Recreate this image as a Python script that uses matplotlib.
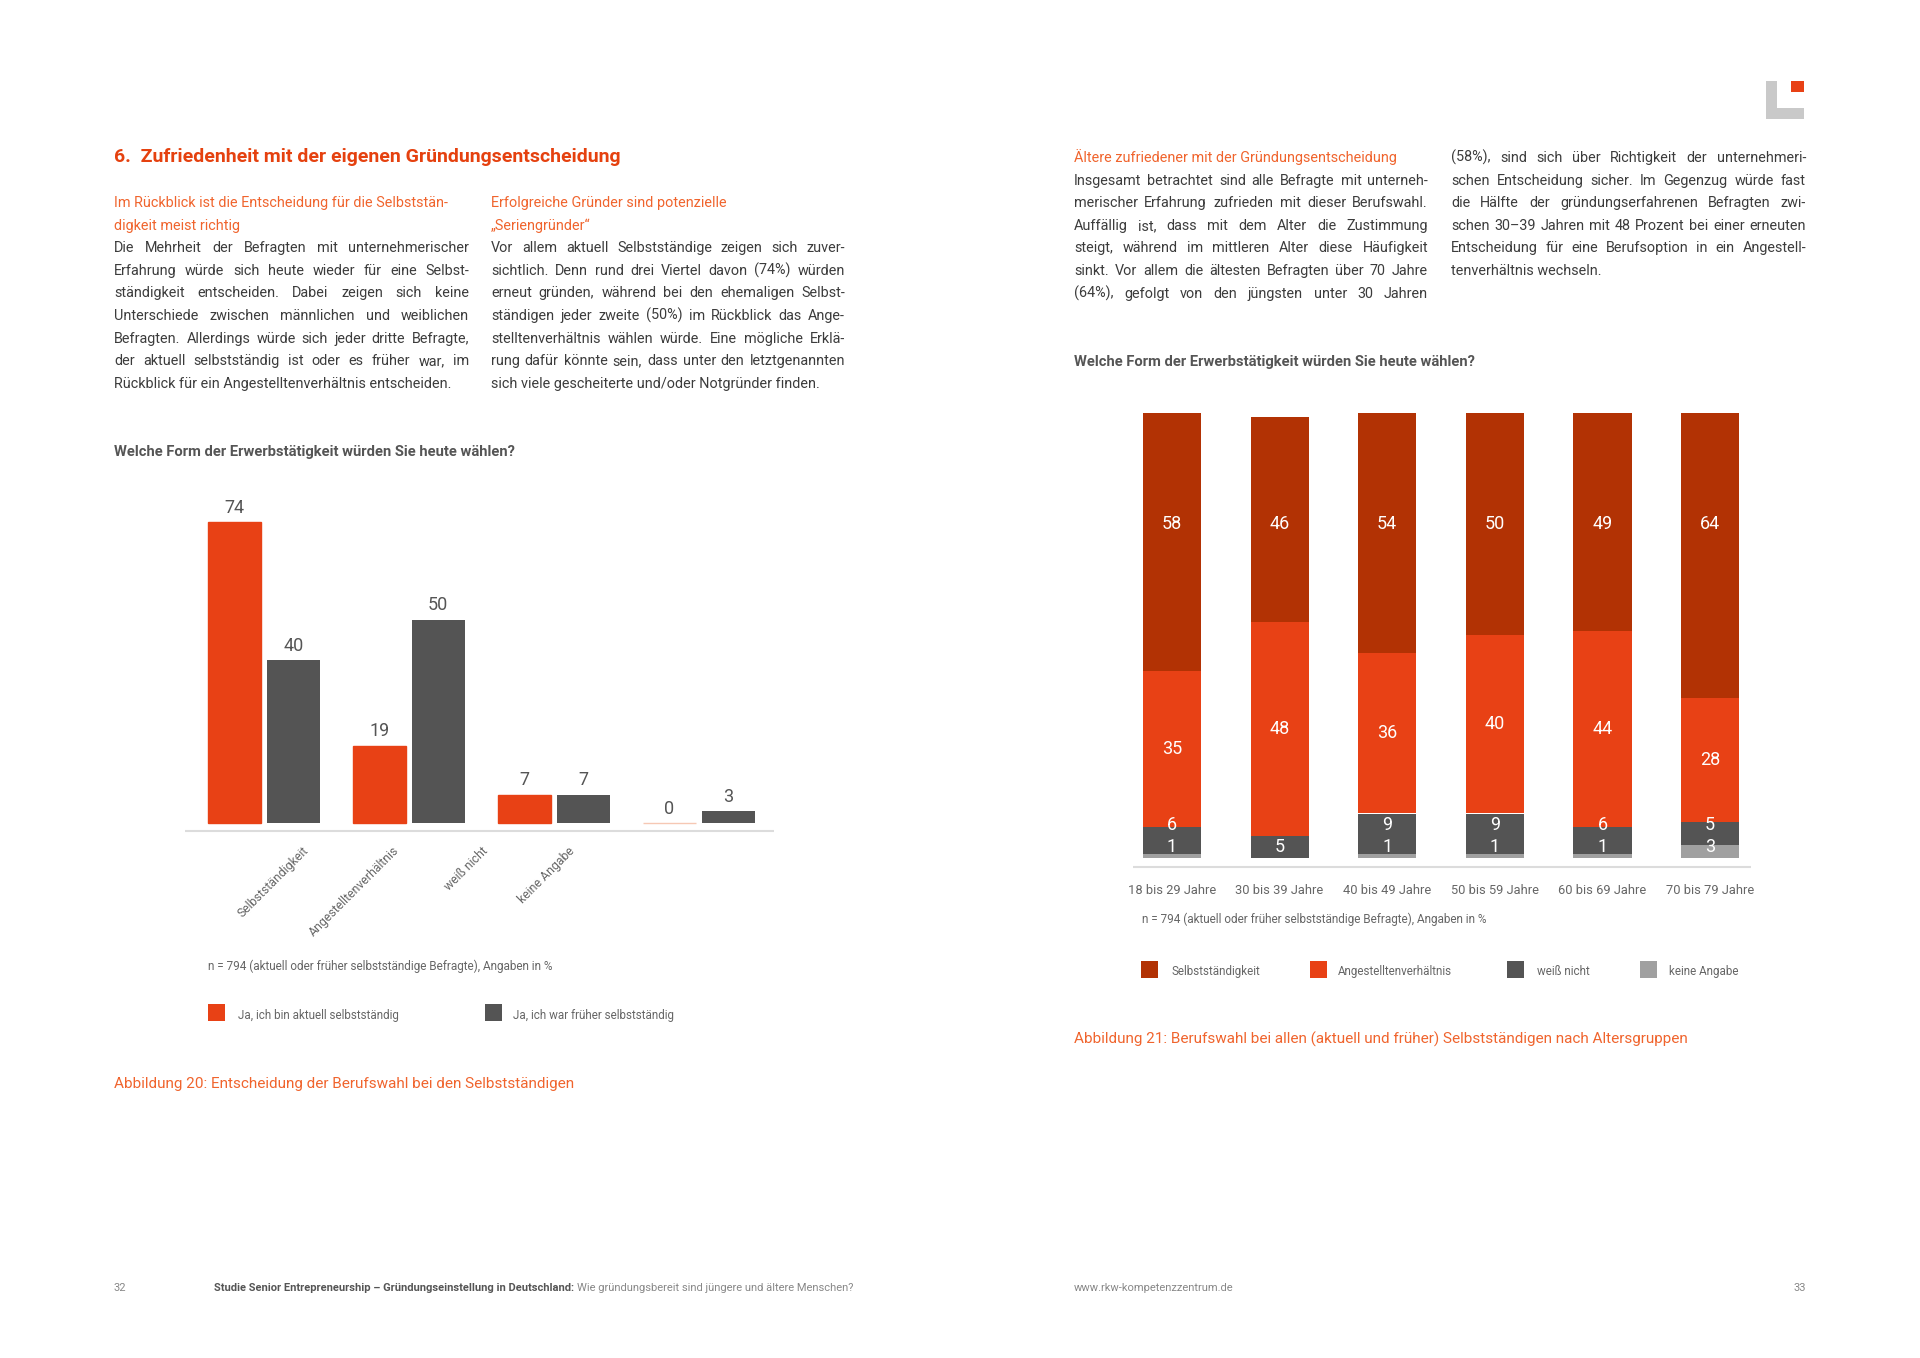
import matplotlib
matplotlib.use('Agg')
import matplotlib.pyplot as plt
from matplotlib.patches import Rectangle
import numpy as np

W, H = 1920, 1358

# ---- chart data (values in %) ----
choice_labels = ['Selbstständigkeit', 'Angestelltenverhältnis', 'weiß nicht', 'keine Angabe']
current_self = [74, 19, 7, 0]
former_self = [40, 50, 7, 3]

age_groups = ['18 bis 29 Jahre', '30 bis 39 Jahre', '40 bis 49 Jahre',
              '50 bis 59 Jahre', '60 bis 69 Jahre', '70 bis 79 Jahre']
keine_angabe = [1, 0, 1, 1, 1, 3]
weiss_nicht = [6, 5, 9, 9, 6, 5]
angestellt = [35, 48, 36, 40, 44, 28]
selbststaendig = [58, 46, 54, 50, 49, 64]
stack_labels = ['Selbstständigkeit', 'Angestelltenverhältnis', 'weiß nicht', 'keine Angabe']

# ---- colours ----
ORANGE = '#E84115'
DARKRED = '#B23204'
DGRAY = '#545454'
LGRAY = '#A0A0A0'
HEAD = '#E5410F'
SUB = '#F0642D'
BODY = '#3c3c3c'
NOTE = '#666666'

plt.rcParams['font.family'] = ['Roboto', 'DejaVu Sans']

fig = plt.figure(figsize=(W / 100, H / 100), dpi=100)
fig.patch.set_facecolor('white')
renderer = fig.canvas.get_renderer()


def fx(x):
    return x / W


def fy(y):
    return 1 - y / H


def put(x, y, s, size=10, **kw):
    return fig.text(fx(x), fy(y), s, fontsize=size, **kw)


def box(x0, y0, x1, y1, color):
    fig.add_artist(Rectangle((fx(x0), fy(y1)), (x1 - x0) / W, (y1 - y0) / H,
                             transform=fig.transFigure, color=color, lw=0))


def text_width(s, **kw):
    t = put(0, 0, s, **kw)
    w = t.get_window_extent(renderer).width
    t.remove()
    return w


def justify(x0, x1, y, line, last=False, **kw):
    # justified paragraph line, words spread between x0 and x1
    if last:
        put(x0, y, line, va='baseline', **kw)
        return
    words = line.split(' ')
    widths = [text_width(w, **kw) for w in words]
    gap = (x1 - x0 - sum(widths)) / (len(words) - 1)
    x = x0
    for w, wd in zip(words, widths):
        put(x, y, w, va='baseline', **kw)
        x += wd + gap


def paragraph(x0, x1, y, lines, end_last=True, **kw):
    for i, line in enumerate(lines):
        last = end_last and i == len(lines) - 1
        justify(x0, x1, y + i * LH, line, last=last, **kw)


LH = 22.6
BL = 4  # baseline offset from line centre

left_col1 = [
    'Die Mehrheit der Befragten mit unternehmerischer',
    'Erfahrung würde sich heute wieder für eine Selbst-',
    'ständigkeit entscheiden. Dabei zeigen sich keine',
    'Unterschiede zwischen männlichen und weiblichen',
    'Befragten. Allerdings würde sich jeder dritte Befragte,',
    'der aktuell selbstständig ist oder es früher war, im',
    'Rückblick für ein Angestelltenverhältnis entscheiden.',
]
left_col2 = [
    'Vor allem aktuell Selbstständige zeigen sich zuver-',
    'sichtlich. Denn rund drei Viertel davon (74%) würden',
    'erneut gründen, während bei den ehemaligen Selbst-',
    'ständigen jeder zweite (50%) im Rückblick das Ange-',
    'stelltenverhältnis wählen würde. Eine mögliche Erklä-',
    'rung dafür könnte sein, dass unter den letztgenannten',
    'sich viele gescheiterte und/oder Notgründer finden.',
]
right_col1 = [
    'Insgesamt betrachtet sind alle Befragte mit unterneh-',
    'merischer Erfahrung zufrieden mit dieser Berufswahl.',
    'Auffällig ist, dass mit dem Alter die Zustimmung',
    'steigt, während im mittleren Alter diese Häufigkeit',
    'sinkt. Vor allem die ältesten Befragten über 70 Jahre',
    '(64%), gefolgt von den jüngsten unter 30 Jahren',
]
right_col2 = [
    '(58%), sind sich über Richtigkeit der unternehmeri-',
    'schen Entscheidung sicher. Im Gegenzug würde fast',
    'die Hälfte der gründungserfahrenen Befragten zwi-',
    'schen 30–39 Jahren mit 48 Prozent bei einer erneuten',
    'Entscheidung für eine Berufsoption in ein Angestell-',
    'tenverhältnis wechseln.',
]

# body size: largest size at which every line fits the 355 px column
BODY_SIZE = 11.0
while BODY_SIZE > 8:
    widest = max(text_width(l, size=BODY_SIZE) for l in left_col1 + left_col2 + right_col1 + right_col2)
    if widest <= 352:
        break
    BODY_SIZE -= 0.1

# ---- left page text ----
put(114, 157 + 5, '6.  Zufriedenheit mit der eigenen Gründungsentscheidung',
    size=14, color=HEAD, fontweight='bold', va='baseline')

put(114, 203 + BL, 'Im Rückblick ist die Entscheidung für die Selbststän-', size=BODY_SIZE, color=SUB, va='baseline')
put(114, 203 + LH + BL, 'digkeit meist richtig', size=BODY_SIZE, color=SUB, va='baseline')
paragraph(114, 469, 203 + 2 * LH + BL, left_col1, size=BODY_SIZE, color=BODY)

put(491, 203 + BL, 'Erfolgreiche Gründer sind potenzielle', size=BODY_SIZE, color=SUB, va='baseline')
put(491, 203 + LH + BL, '„Seriengründer“', size=BODY_SIZE, color=SUB, va='baseline')
paragraph(491, 845, 203 + 2 * LH + BL, left_col2, size=BODY_SIZE, color=BODY)

put(114, 452 + BL, 'Welche Form der Erwerbstätigkeit würden Sie heute wählen?',
    size=10.6, color='#555555', fontweight='bold', va='baseline')

# ---- right page text ----
put(1074, 158 + BL, 'Ältere zufriedener mit der Gründungsentscheidung', size=BODY_SIZE, color=SUB, va='baseline')
paragraph(1074, 1428, 158 + LH + BL, right_col1, end_last=False, size=BODY_SIZE, color=BODY)
paragraph(1451, 1806, 158 + BL, right_col2, size=BODY_SIZE, color=BODY)

put(1074, 362 + BL, 'Welche Form der Erwerbstätigkeit würden Sie heute wählen?',
    size=10.6, color='#555555', fontweight='bold', va='baseline')

# logo
box(1766, 81, 1777, 119, '#c9c9c9')
box(1766, 108, 1804, 119, '#c9c9c9')
box(1791, 81, 1804, 92, ORANGE)

# ---- left chart: grouped bars ----
ax1 = fig.add_axes([fx(185), fy(839.3), (774 - 185) / W, (839.3 - 416) / H])
x = np.arange(len(choice_labels))
edge = ['#F6C8B4' if v == 0 else ORANGE for v in current_self]
ax1.bar(x - 0.203, current_self, 0.366, color=ORANGE, edgecolor=edge, linewidth=1)
ax1.bar(x + 0.203, former_self, 0.366, color=DGRAY, linewidth=0)
for xi, a, b in zip(x, current_self, former_self):
    ax1.text(xi - 0.203, a + 1.3, str(a), ha='center', va='bottom', fontsize=13, color='#555555')
    ax1.text(xi + 0.203, b + 1.3, str(b), ha='center', va='bottom', fontsize=13, color='#555555')
ax1.axhline(-2, color='#dcdcdc', lw=1.5)
ax1.set_xlim(-0.545, 3.52)
ax1.set_ylim(-4, 100)
ax1.axis('off')

# rotated category labels (offset as in the original layout)
for lx, lab in zip([307, 397, 486, 573], choice_labels):
    put(lx, 849, lab, size=8.8, color=NOTE, rotation=45, ha='right', va='center',
        rotation_mode='anchor')

put(208, 967 + 3, 'n = 794 (aktuell oder früher selbstständige Befragte), Angaben in %',
    size=8.5, color=NOTE, va='baseline')
box(208, 1004, 225, 1021, ORANGE)
put(238, 1016 + 3, 'Ja, ich bin aktuell selbstständig', size=8.4, color=NOTE, va='baseline')
box(485, 1004, 502, 1021, DGRAY)
put(513, 1016 + 3, 'Ja, ich war früher selbstständig', size=8.4, color=NOTE, va='baseline')

put(114, 1084 + 4, 'Abbildung 20: Entscheidung der Berufswahl bei den Selbstständigen',
    size=11, color=SUB, va='baseline')

# ---- right chart: stacked bars ----
ax2 = fig.add_axes([fx(1133), fy(875.8), (1751 - 1133) / W, (875.8 - 413) / H])
x2 = np.arange(len(age_groups))
series = [keine_angabe, weiss_nicht, angestellt, selbststaendig]
colors = [LGRAY, DGRAY, ORANGE, DARKRED]
bottom = np.zeros(len(age_groups))
prev_label = np.full(len(age_groups), -2.5)
for k, (vals, col) in enumerate(zip(series, colors)):
    vals = np.array(vals)
    ax2.bar(x2, vals, 0.54, bottom=bottom, color=col, linewidth=0)
    for i, v in enumerate(vals):
        if v == 0:
            continue
        if k == len(series) - 1:
            ly = 75
        else:
            ly = max(bottom[i] + v / 2, prev_label[i] + 5)
            prev_label[i] = ly
        ax2.text(x2[i], ly, str(v), ha='center', va='center', fontsize=13, color='white')
    bottom += vals
ax2.axhline(-2, color='#dcdcdc', lw=1.5)
ax2.set_xlim(-0.362, 5.38)
ax2.set_ylim(-4, 100)
for s in ax2.spines.values():
    s.set_visible(False)
ax2.set_yticks([])
ax2.set_xticks(x2)
ax2.set_xticklabels(age_groups, fontsize=9.3, color=NOTE)
ax2.tick_params(axis='x', length=0, pad=6)

put(1142, 920 + 3, 'n = 794 (aktuell oder früher selbstständige Befragte), Angaben in %',
    size=8.5, color=NOTE, va='baseline')
for sx, tx, col, lab in zip([1141, 1310, 1507, 1640], [1172, 1338, 1537, 1669],
                            [DARKRED, ORANGE, DGRAY, LGRAY], stack_labels):
    box(sx, 961, sx + 17, 978, col)
    put(tx, 972 + 3, lab, size=8.4, color=NOTE, va='baseline')

put(1074, 1040 + 4, 'Abbildung 21: Berufswahl bei allen (aktuell und früher) Selbstständigen nach Altersgruppen',
    size=11, color=SUB, va='baseline')

# ---- footer ----
put(114, 1291, '32', size=8, color='#888888', va='baseline')
bold_part = 'Studie Senior Entrepreneurship – Gründungseinstellung in Deutschland:'
put(214, 1291, bold_part, size=8, color='#555555', fontweight='bold', va='baseline')
bw = text_width(bold_part, size=8, fontweight='bold')
put(214 + bw + 3, 1291, 'Wie gründungsbereit sind jüngere und ältere Menschen?',
    size=8, color='#888888', va='baseline')
put(1074, 1291, 'www.rkw-kompetenzzentrum.de', size=8, color='#888888', va='baseline')
put(1806, 1291, '33', size=8, color='#888888', va='baseline', ha='right')

fig.savefig('out.png', dpi=100, facecolor='white')
